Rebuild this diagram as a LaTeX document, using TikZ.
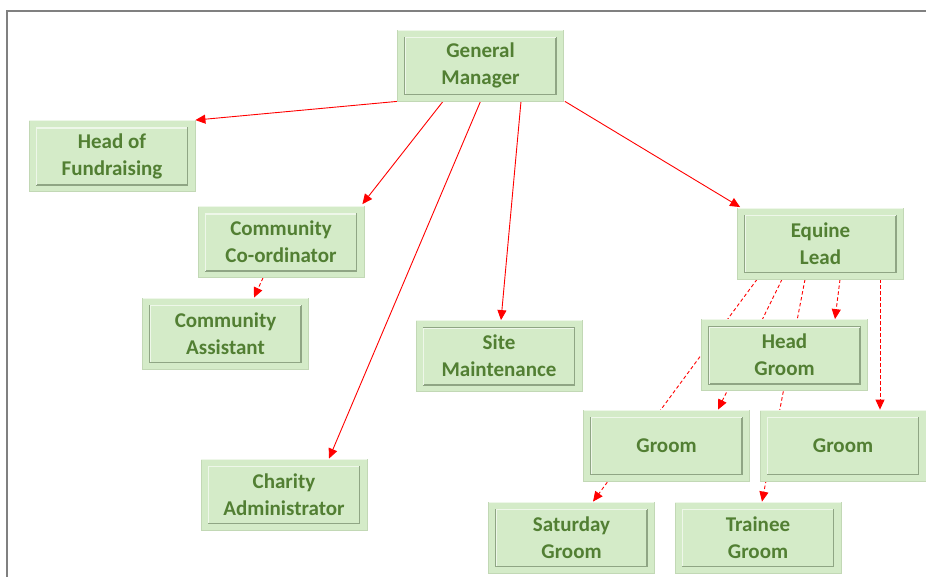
\documentclass[tikz,border=0pt]{standalone}
\usepackage{fontspec}
\setmainfont{Carlito}
\usetikzlibrary{arrows.meta,backgrounds}
\definecolor{boxfill}{HTML}{D4EBC8}
\definecolor{boxedge}{HTML}{C2D8B5}
\definecolor{txtgreen}{HTML}{527F33}
\definecolor{bevlight}{HTML}{EEF7E9}
\definecolor{bevdark}{HTML}{8FA584}
\definecolor{framegray}{HTML}{808080}
\tikzset{
  orgbox/.style={draw=boxedge, line width=0.8pt, fill=boxfill, minimum width=166pt, minimum height=71pt,
    inner sep=0pt, align=center, text=txtgreen, font=\bfseries\fontsize{21}{27}\selectfont},
  link/.style={red, line width=0.9pt, -{Triangle[length=10pt,width=9pt]}},
  dlink/.style={link, dash pattern=on 3.5pt off 2.5pt},
  framel/.style={framegray, line width=2pt}
}
\begin{document}
\begin{tikzpicture}[x=1pt,y=-1pt]
\useasboundingbox (0,0) rectangle (926,577);
\draw[framel] (7,577) coordinate (fbl) -- (7,11) coordinate (ftl) -- (926,11) coordinate (ftr);

\node[orgbox] (gm)   at (480.5,65.5) {General\\Manager};
\node[orgbox] (hof)  at (112,156)    {Head of\\Fundraising};
\node[orgbox] (cc)   at (281,242)    {Community\\Co-ordinator};
\node[orgbox] (ca)   at (225.5,333.5){Community\\Assistant};
\node[orgbox] (sm)   at (499,356)    {Site\\Maintenance};
\node[orgbox] (chad) at (284,494.5)  {Charity\\Administrator};
\node[orgbox] (el)   at (820.5,243.5){Equine\\Lead};
\node[orgbox] (hg)   at (784.5,355)  {Head\\Groom};
\node[orgbox] (ga)   at (666.5,445.5){Groom};
\node[orgbox] (gb)   at (843,445.5)  {Groom};
\node[orgbox] (sg)   at (571.5,537.5){Saturday\\Groom};
\node[orgbox] (tg)   at (758,537.5)  {Trainee\\Groom};

\foreach \n in {gm,hof,cc,ca,sm,chad,el,hg,ga,gb,sg,tg}{
  \draw[bevdark, line width=1.6pt] ([shift={(8,8)}]\n.north west) rectangle ([shift={(-8,-7)}]\n.south east);
  \draw[bevlight, line width=1.2pt] ([shift={(8,-7)}]\n.south west) -- ([shift={(8,8)}]\n.north west) -- ([shift={(-8,8)}]\n.north east);
  \draw[bevlight, line width=1pt] ([shift={(0.6,0.6)}]\n.north west) -- ([shift={(-0.6,0.6)}]\n.north east);
}

\begin{scope}[on background layer]
\draw[link] (gm.south west) -- (hof.north east);
\draw[link] ([xshift=-37.5]gm.south) -- ([shift={(-2,-2)}]cc.north east);
\draw[link] (gm.south) -- ([xshift=45]chad.north);
\draw[link] ([xshift=40.5]gm.south) -- ([xshift=2]sm.north);
\draw[link] ([xshift=1]gm.south east) -- ([shift={(3,-0.5)}]el.north west);
\draw[dlink] ([xshift=-18]cc.south) -- ([xshift=28.5]ca.north);
\draw[dlink] ([xshift=19.5]el.south) -- ([xshift=50.5]hg.north);
\draw[dlink] ([xshift=59.5]el.south) -- ([xshift=37]gb.north);
\draw[dlink] ([xshift=-63.5]el.south) -- ([xshift=21.5]sg.north);
\draw[dlink] ([xshift=-38.5]el.south) -- ([xshift=51.5]ga.north);
\draw[dlink] ([xshift=-15.5]el.south) -- ([xshift=4]tg.north);
\end{scope}
\end{tikzpicture}
\end{document}
